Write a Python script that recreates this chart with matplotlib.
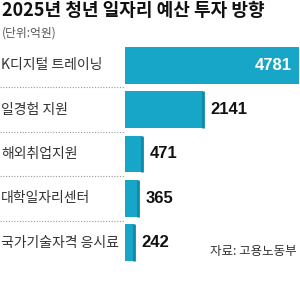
import matplotlib.pyplot as plt
from matplotlib.transforms import blended_transform_factory

# data
categories = ['K디지털 트레이닝', '일경험 지원', '해외취업지원', '대학일자리센터', '국가기술자격 응시료']
values = [4781, 2141, 471, 365, 242]

title = '2025년 청년 일자리 예산 투자 방향'
unit = '(단위:억원)'
source = '자료: 고용노동부'

kr = ['Noto Sans CJK KR', 'DejaVu Sans']
num = ['Liberation Sans', 'DejaVu Sans']
bar_color = '#17a6c8'
edge_color = '#0e8aa8'

plt.rcParams['font.family'] = kr

W, H = 300, 303
fig = plt.figure(figsize=(W / 100, H / 100), dpi=100)
fig.patch.set_facecolor('white')

# axes placed in pixel terms
left, right, top, bottom = 125, 300, 43, 265
ax = fig.add_axes([left / W, 1 - bottom / H, (right - left) / W, (bottom - top) / H])
ax.set_xlim(0, 4781 * 175 / 174)
ax.set_ylim(len(values) - 0.5, -0.5)
ax.axis('off')

ypos = list(range(len(values)))
bh = 0.83
ax.barh(ypos, values, height=bh, color=bar_color, linewidth=0)
ax.vlines(values[1:], [y - bh / 2 for y in ypos[1:]], [y + bh / 2 for y in ypos[1:]],
          color=edge_color, lw=2)

# value labels
for y, v in zip(ypos, values):
    if v == max(values):
        ax.annotate(str(v), (v, y), xytext=(-5, 0), textcoords='offset points',
                    ha='right', va='center', color='white', fontsize=12,
                    fontweight='bold', family=num)
    else:
        ax.annotate(str(v), (v, y), xytext=(5.5, 0), textcoords='offset points',
                    ha='left', va='center', color='#111111', fontsize=12,
                    fontweight='bold', family=num)

# category labels and dotted separators
tr = blended_transform_factory(fig.transFigure, ax.transData)
for y, c in zip(ypos, categories):
    ax.text(1 / W, y, c, transform=tr, ha='left', va='center',
            fontsize=10, color='#333333', clip_on=False)
for y in ypos[:-1]:
    ax.plot([0, (left - 1) / W], [y + 0.5, y + 0.5], transform=tr,
            color='#999999', lw=0.8, ls=(0, (1, 1.5)), clip_on=False)

# titles
fig.text(2 / W, 1 - 1 / H, title, ha='left', va='top', fontsize=13,
         fontweight='bold', color='#111111')
fig.text(2 / W, 1 - 33 / H, unit, ha='left', va='center', fontsize=8.5,
         color='#555555')
fig.text(297 / W, 1 - 252 / H, source, ha='right', va='center',
         fontsize=9, color='#333333')

fig.savefig('out.png', dpi=100, facecolor='white')
